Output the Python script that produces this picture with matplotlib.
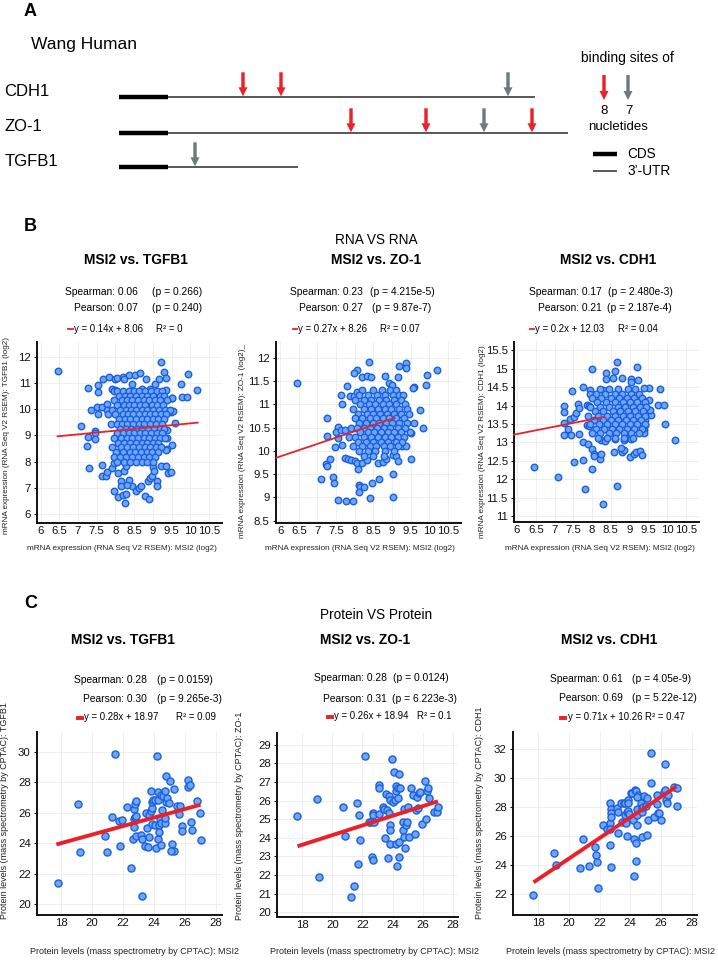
import matplotlib
matplotlib.use('Agg')
import matplotlib.pyplot as plt
from matplotlib.lines import Line2D

plt.rcParams['font.family'] = ['Liberation Sans', 'DejaVu Sans']

W, H = 718, 960
fig = plt.figure(figsize=(W / 100, H / 100), dpi=100)


def box(x0, y0, x1, y1):
    # pixel box (top-left origin) -> figure fraction rect
    return [x0 / W, 1 - y1 / H, (x1 - x0) / W, (y1 - y0) / H]


def ftext(x, y, s, **kw):
    kw.setdefault('va', 'center')
    return fig.text(x / W, 1 - y / H, s, **kw)


# ─── Panel A: binding-site schematic (schematic units along the transcript) ──
GENES = ['CDH1', 'ZO-1', 'TGFB1']
CDS_START = 119
CDS_END = 168
UTR_END = [535, 568, 298]
SITES_8NT = [[243, 281], [351, 426, 532], []]
SITES_7NT = [[508], [484], [195]]

# ─── Panel B: RNA vs RNA (log2 RSEM) ────────────────────────────────────────
B_TITLES = ['MSI2 vs. TGFB1', 'MSI2 vs. ZO-1', 'MSI2 vs. CDH1']
B_GENE_LBL = ['TGFB1 (log2)', 'ZO-1 (log2)_', 'CDH1 (log2)']
B_SPEARMAN = ['0.06', '0.23', '0.17']
B_SPEARMAN_P = ['0.266', '4.215e-5', '2.480e-3']
B_PEARSON = ['0.07', '0.27', '0.21']
B_PEARSON_P = ['0.240', '9.87e-7', '2.187e-4']
B_SLOPE = [0.14, 0.27, 0.2]
B_INTERCEPT = [8.06, 8.26, 12.03]
B_R2 = ['0', '0.07', '0.04']
B_FIT_X = [(6.45, 10.2), (5.9, 9.07), (5.92, 8.32)]

B1_OUT = [(6.45, 11.45), (9.23, 11.81), (9.94, 11.34), (10.18, 10.75), (9.74, 10.96),
          (9.79, 10.48), (9.91, 10.48), (9.29, 11.43), (9.36, 11.2), (7.26, 10.83),
          (7.54, 10.92), (7.52, 10.64), (7.67, 11.17), (7.83, 11.25), (8.0, 11.15),
          (8.03, 11.21), (8.21, 11.22), (8.22, 11.15), (8.36, 11.3), (8.53, 11.3),
          (8.66, 11.4), (8.43, 10.96), (8.82, 11.15), (9.16, 11.15), (9.07, 10.98),
          (8.72, 10.77), (8.93, 10.77), (9.35, 10.75), (9.52, 10.44), (7.92, 10.79),
          (8.0, 10.75), (7.35, 9.97), (7.5, 10.07), (7.63, 10.07), (7.54, 9.81),
          (7.77, 10.2), (7.77, 9.97), (7.79, 9.81), (7.09, 9.37), (7.44, 9.17),
          (7.44, 9.08), (7.26, 8.93), (7.23, 8.6), (7.44, 8.85), (7.28, 7.74),
          (7.64, 7.87), (7.65, 7.46), (7.74, 7.43), (7.76, 7.59), (7.91, 7.74),
          (7.96, 7.93), (8.06, 7.58), (7.95, 6.88), (8.14, 7.24), (8.15, 7.05),
          (8.08, 6.66), (8.21, 6.73), (8.29, 6.76), (8.25, 6.41), (8.37, 7.29),
          (8.43, 7.05), (8.32, 7.11), (8.22, 7.64), (8.29, 7.84), (8.56, 6.89),
          (8.63, 6.98), (8.69, 7.07), (8.79, 6.69), (8.91, 6.55), (8.88, 7.27),
          (8.93, 7.36), (8.99, 7.43), (9.12, 7.24), (9.1, 7.05), (9.0, 7.81),
          (9.02, 7.62), (9.23, 7.84), (9.36, 7.84), (9.4, 7.55), (9.49, 7.59),
          (9.52, 8.63), (9.58, 9.46), (9.39, 9.21), (9.39, 8.91), (9.39, 8.47),
          (9.35, 8.44), (9.49, 9.9), (9.55, 9.93), (9.52, 10.41)]
B1_CORE_Y = [10.7, 10.52, 10.34, 10.16, 9.98, 9.8, 9.62, 9.44, 9.26, 9.08, 8.9, 8.72,
             8.54, 8.36, 8.18, 8.0]
B1_CORE_X = [[7.95, 8.05, 8.2, 8.35, 8.5, 8.62, 8.78, 8.95, 9.1, 9.25],
             [8.1, 8.25, 8.4, 8.55, 8.7, 8.85, 9.0, 9.18, 9.3],
             [7.97, 8.17, 8.3, 8.45, 8.6, 8.75, 8.9, 9.05, 9.2, 9.38],
             [8.05, 8.22, 8.35, 8.5, 8.65, 8.8, 8.97, 9.12, 9.28],
             [7.9, 8.12, 8.28, 8.42, 8.56, 8.7, 8.85, 9.0, 9.16, 9.32, 9.45],
             [8.0, 8.2, 8.33, 8.48, 8.62, 8.78, 8.92, 9.07, 9.22, 9.36],
             [8.1, 8.25, 8.4, 8.55, 8.7, 8.85, 9.0, 9.15, 9.3],
             [7.88, 8.05, 8.18, 8.32, 8.47, 8.62, 8.77, 8.92, 9.08, 9.25],
             [8.12, 8.28, 8.42, 8.57, 8.72, 8.88, 9.02, 9.18, 9.3],
             [8.05, 8.2, 8.35, 8.5, 8.66, 8.8, 8.96, 9.1, 9.25],
             [7.95, 8.15, 8.3, 8.45, 8.6, 8.75, 8.9, 9.05, 9.2, 9.33],
             [8.08, 8.24, 8.4, 8.55, 8.7, 8.85, 9.0, 9.15],
             [7.92, 8.15, 8.32, 8.47, 8.62, 8.78, 8.93, 9.08, 9.22],
             [8.02, 8.2, 8.38, 8.53, 8.68, 8.83, 8.98, 9.13],
             [7.95, 8.12, 8.28, 8.45, 8.6, 8.75, 8.9, 9.05],
             [8.05, 8.22, 8.38, 8.55, 8.7, 8.85, 9.0]]

B2_OUT = [(6.45, 11.45), (8.37, 11.91), (9.38, 11.89), (9.38, 11.79), (9.2, 11.82),
          (10.2, 11.74), (9.95, 11.63), (9.91, 11.42), (9.58, 11.37), (9.55, 11.35),
          (8.05, 11.74), (7.98, 11.67), (8.2, 11.59), (8.33, 11.61), (8.44, 11.59),
          (8.8, 11.61), (9.17, 11.59), (7.79, 11.4), (8.91, 11.45), (9.0, 11.42),
          (7.63, 11.21), (7.66, 11.01), (7.88, 11.17), (7.98, 11.19), (8.07, 11.26),
          (7.26, 10.7), (7.27, 10.32), (7.1, 9.39), (7.24, 9.71), (7.27, 9.68),
          (7.35, 9.82), (7.43, 9.43), (7.44, 9.31), (7.47, 10.08), (7.54, 10.52),
          (7.51, 10.4), (7.63, 10.44), (7.74, 10.44), (7.56, 10.27), (7.65, 10.13),
          (7.54, 8.95), (7.78, 8.92), (7.96, 8.92), (7.74, 9.85), (7.83, 9.83),
          (7.91, 9.81), (8.0, 9.78), (8.07, 9.75), (8.09, 9.62), (8.11, 9.27),
          (8.14, 9.22), (8.25, 9.23), (8.11, 9.11), (8.42, 8.99), (8.46, 9.32),
          (8.64, 9.39), (9.03, 9.51), (9.04, 9.01), (8.2, 9.75), (8.34, 9.8),
          (8.62, 9.73), (8.75, 9.77), (8.84, 9.82), (9.02, 9.92), (9.11, 9.89),
          (9.17, 9.78), (9.51, 9.82), (9.26, 10.1), (9.38, 10.1), (9.51, 10.38),
          (9.58, 10.59), (9.76, 10.87), (9.82, 10.49)]
B2_CORE_Y = [11.3, 11.2, 11.1, 11.0, 10.9, 10.8, 10.7, 10.6, 10.5, 10.4, 10.3, 10.2,
             10.1, 10.0, 9.9]
B2_CORE_X = [[8.2, 8.5, 8.72, 8.95, 9.1],
             [8.12, 8.35, 8.6, 8.8, 9.02, 9.2, 9.3],
             [8.0, 8.25, 8.45, 8.65, 8.85, 9.05, 9.25],
             [8.15, 8.38, 8.55, 8.75, 8.92, 9.12, 9.35],
             [7.95, 8.25, 8.45, 8.62, 8.8, 8.98, 9.18, 9.4],
             [8.1, 8.32, 8.5, 8.68, 8.86, 9.05, 9.25, 9.45],
             [8.0, 8.2, 8.4, 8.58, 8.75, 8.93, 9.12, 9.32],
             [8.12, 8.3, 8.48, 8.66, 8.84, 9.0, 9.2, 9.4],
             [7.9, 8.05, 8.25, 8.42, 8.6, 8.78, 8.95, 9.15, 9.35],
             [8.15, 8.35, 8.52, 8.7, 8.88, 9.05, 9.25, 9.48],
             [7.85, 8.0, 8.25, 8.45, 8.62, 8.8, 8.98, 9.15, 9.32],
             [8.1, 8.3, 8.5, 8.7, 8.9, 9.1, 9.28],
             [7.95, 8.2, 8.4, 8.58, 8.78, 8.95, 9.15],
             [8.12, 8.35, 8.55, 8.8, 9.05],
             [8.25, 8.5, 8.78]]

B3_OUT = [(6.45, 12.34), (7.09, 12.06), (7.82, 11.75), (8.28, 11.34), (8.67, 11.81),
          (7.99, 12.29), (7.53, 12.47), (7.77, 12.52), (8.0, 14.99), (8.66, 15.2),
          (9.2, 15.06), (8.38, 14.88), (8.61, 14.93), (8.38, 14.73), (8.57, 14.75),
          (8.81, 14.76), (9.03, 14.72), (9.05, 14.63), (9.23, 14.7), (7.75, 14.52),
          (7.47, 14.4), (7.95, 14.43), (7.95, 14.31), (8.3, 14.43), (9.53, 14.49),
          (9.38, 14.47), (9.8, 14.45), (9.75, 14.02), (9.91, 14.02), (9.95, 13.49),
          (10.2, 13.06), (7.26, 14.0), (7.26, 13.84), (7.24, 13.54), (7.35, 13.38),
          (7.26, 13.2), (7.44, 13.2), (7.66, 13.22), (7.42, 13.65), (7.53, 13.7),
          (7.57, 13.79), (7.62, 14.04), (7.64, 13.93), (7.77, 13.02), (7.88, 12.97),
          (7.86, 13.47), (7.92, 13.45), (7.86, 14.02), (7.92, 14.0), (8.01, 12.82),
          (8.04, 12.7), (8.06, 12.64), (8.2, 12.55), (8.25, 12.7), (8.23, 13.06),
          (8.34, 13.04), (8.59, 12.73), (8.61, 13.09), (8.81, 12.75), (8.85, 12.79),
          (8.78, 12.84), (9.01, 12.61), (9.12, 12.7), (9.16, 12.75), (9.29, 12.76),
          (9.34, 12.65), (8.85, 13.06), (8.9, 13.11), (9.03, 13.09), (9.38, 13.34),
          (9.38, 13.25), (9.42, 13.61), (9.4, 13.47), (9.56, 13.76), (9.54, 13.88),
          (9.51, 14.15)]
B3_CORE_Y = [14.45, 14.33, 14.21, 14.09, 13.97, 13.85, 13.73, 13.61, 13.49, 13.37,
             13.25, 13.13]
B3_CORE_X = [[8.2, 8.45, 8.7, 8.95, 9.15],
             [8.1, 8.35, 8.6, 8.8, 9.05, 9.25],
             [8.0, 8.25, 8.5, 8.72, 8.92, 9.12, 9.32],
             [8.12, 8.38, 8.6, 8.82, 9.02, 9.2, 9.4],
             [7.95, 8.2, 8.45, 8.68, 8.88, 9.08, 9.28, 9.45],
             [8.08, 8.3, 8.55, 8.75, 8.95, 9.15, 9.35],
             [7.9, 8.15, 8.4, 8.62, 8.82, 9.02, 9.22, 9.42],
             [8.05, 8.28, 8.5, 8.7, 8.9, 9.1, 9.3],
             [7.95, 8.18, 8.4, 8.6, 8.8, 9.0, 9.2, 9.4],
             [8.1, 8.32, 8.52, 8.72, 8.92, 9.12, 9.32],
             [8.0, 8.22, 8.45, 8.65, 8.85, 9.05, 9.25],
             [8.15, 8.4, 8.6, 8.85, 9.1]]

# ─── Panel C: protein vs protein (CPTAC) ────────────────────────────────────
C_TITLES = ['MSI2 vs. TGFB1', 'MSI2 vs. ZO-1', 'MSI2 vs. CDH1']
C_GENE_LBL = ['TGFB1', 'ZO-1', 'CDH1']
C_SPEARMAN = ['0.28', '0.28', '0.61']
C_SPEARMAN_P = ['0.0159', '0.0124', '4.05e-9']
C_PEARSON = ['0.30', '0.31', '0.69']
C_PEARSON_P = ['9.265e-3', '6.223e-3', '5.22e-12']
C_SLOPE = [0.28, 0.26, 0.71]
C_INTERCEPT = [18.97, 18.94, 10.26]
C_R2 = ['0.09', '0.1', '0.47']
C_FIT_X = (17.7, 27.0)

C1_PTS = [(17.78, 21.42), (19.12, 26.59), (19.23, 23.41), (20.82, 24.45), (20.95, 23.45),
          (21.31, 25.7), (21.51, 29.89), (21.72, 25.46), (21.91, 25.52), (21.83, 23.82),
          (22.26, 26.4), (22.52, 22.4), (22.67, 24.3), (22.71, 25.04), (22.74, 25.59),
          (22.77, 25.74), (22.74, 26.24), (22.8, 26.57), (22.82, 26.79), (22.82, 24.5),
          (22.84, 25.81), (23.18, 24.52), (23.2, 24.3), (23.2, 20.55), (23.39, 23.82),
          (23.46, 26.0), (23.53, 24.98), (23.63, 23.78), (23.68, 25.85), (23.7, 24.39),
          (23.78, 26.11), (23.85, 26.29), (23.83, 27.4), (23.85, 26.72), (23.91, 26.81),
          (23.89, 25.26), (24.09, 25.2), (24.13, 23.71), (24.17, 29.74), (24.06, 26.83),
          (24.24, 27.36), (24.26, 26.81), (24.28, 24.28), (24.3, 25.22), (24.34, 24.76),
          (24.39, 25.57), (24.43, 27.14), (24.45, 23.89), (24.45, 25.31), (24.49, 26.18),
          (24.58, 27.1), (24.69, 27.4), (24.71, 25.35), (24.73, 25.66), (24.75, 26.68),
          (24.77, 28.41), (24.86, 27.0), (24.95, 26.62), (25.05, 28.1), (25.16, 23.93),
          (25.31, 23.49), (25.08, 23.49), (25.31, 27.58), (25.51, 26.44), (25.61, 25.92),
          (25.68, 26.44), (25.78, 25.13), (25.78, 24.8), (26.22, 28.12), (26.19, 27.71),
          (26.34, 27.82), (26.41, 25.41), (26.45, 24.85), (26.75, 26.79), (26.99, 25.96),
          (27.01, 24.21)]
C2_PTS = [(17.67, 25.18), (19.02, 26.06), (19.13, 21.87), (20.72, 25.66), (20.87, 24.12),
          (21.25, 20.81), (21.44, 21.41), (21.64, 25.86), (21.73, 22.57), (21.8, 25.21),
          (21.86, 23.9), (22.19, 28.41), (22.42, 24.85), (22.57, 24.85), (22.66, 22.99),
          (22.7, 22.82), (22.68, 25.34), (22.72, 25.21), (22.75, 24.83), (23.12, 26.83),
          (23.12, 26.68), (23.12, 25.25), (23.34, 25.66), (23.45, 25.57), (23.47, 23.99),
          (23.58, 26.34), (23.63, 25.48), (23.76, 25.34), (23.67, 22.93), (23.78, 26.22),
          (23.81, 26.02), (23.81, 24.71), (23.81, 24.4), (23.85, 23.65), (23.98, 28.21),
          (24.02, 25.93), (24.09, 27.51), (24.16, 26.02), (24.2, 26.77), (24.25, 26.52),
          (24.23, 23.69), (24.29, 22.5), (24.34, 26.11), (24.38, 26.65), (24.4, 23.78),
          (24.42, 27.42), (24.45, 22.97), (24.47, 26.65), (24.67, 24.44), (24.69, 24.85),
          (24.73, 25.57), (24.75, 24.04), (24.84, 23.45), (24.89, 24.67), (24.95, 24.85),
          (25.02, 25.66), (25.11, 24.04), (25.24, 26.68), (25.33, 26.29), (25.51, 24.22),
          (25.57, 25.48), (25.66, 25.59), (25.62, 26.2), (25.73, 26.38), (25.79, 26.47),
          (25.97, 24.76), (26.17, 27.06), (26.21, 25.03), (26.28, 26.52), (26.34, 26.65),
          (26.43, 26.16), (26.72, 25.39), (26.94, 25.39), (26.98, 25.66)]
C3_PTS = [(17.67, 21.95), (19.03, 24.83), (19.16, 24.02), (20.74, 23.79), (20.91, 25.82),
          (21.28, 23.95), (21.68, 25.29), (21.74, 24.71), (21.83, 24.25), (21.9, 22.41),
          (22.22, 26.78), (22.49, 26.48), (22.66, 26.9), (22.7, 28.32), (22.77, 27.86),
          (22.77, 27.59), (22.75, 27.31), (22.66, 25.4), (22.75, 23.91), (22.66, 26.48),
          (23.14, 27.93), (23.19, 27.7), (23.19, 26.25), (23.4, 28.28), (23.58, 28.32),
          (23.69, 28.32), (23.47, 27.01), (23.69, 27.01), (23.75, 26.9), (23.69, 27.47),
          (23.8, 27.7), (23.84, 27.77), (23.84, 28.51), (23.84, 28.32), (23.9, 27.54),
          (23.8, 26.05), (24.02, 29.01), (24.13, 28.97), (24.19, 27.13), (24.24, 25.79),
          (24.35, 25.52), (24.3, 29.2), (24.35, 29.13), (24.41, 27.86), (24.46, 27.47),
          (24.46, 26.78), (24.37, 24.32), (24.24, 23.29), (24.5, 28.85), (24.67, 28.74),
          (24.72, 28.28), (24.78, 27.93), (24.74, 25.93), (24.74, 27.7), (24.85, 28.05),
          (24.89, 28.78), (25.07, 28.62), (25.07, 26.09), (25.0, 28.12), (25.33, 31.77),
          (25.33, 29.66), (25.18, 27.13), (25.55, 27.36), (25.72, 28.85), (25.77, 28.23),
          (25.83, 27.59), (25.88, 27.63), (26.03, 27.13), (26.21, 29.08), (26.25, 29.2),
          (26.25, 30.97), (26.32, 28.51), (26.42, 28.28), (26.47, 28.85), (26.82, 29.43),
          (27.04, 29.36), (27.04, 28.12), (24.46, 28.74)]

RED = '#ec2027'
GRAY = '#6d7b7b'
DOT_FACE = '#6ea6f5'
DOT_EDGE = '#1a5fe0'
FS_STAT = 7.4
FS_EQ = 6.9

# ═══ Panel A ═════════════════════════════════════════════════════════════════
axA = fig.add_axes(box(0, 0, W, 200))
axA.set_xlim(0, W)
axA.set_ylim(200, 0)
axA.axis('off')

ROW_Y = [97.3, 133.3, 167.3]
LBL_Y = [91.7, 126.7, 161.7]
ARROW_LEN = 24
ARW = dict(width=3.4, head_width=9, head_length=9, length_includes_head=True, lw=0)

for g, name in enumerate(GENES):
    axA.plot([CDS_START, UTR_END[g]], [ROW_Y[g], ROW_Y[g]], color='#2b2b2b', lw=1.1,
             solid_capstyle='butt')
    axA.plot([CDS_START, CDS_END], [ROW_Y[g], ROW_Y[g]], color='black', lw=3.2,
             solid_capstyle='butt')
    axA.text(4.6, LBL_Y[g], name, fontsize=12, ha='left', va='center')
    for sites, col in ((SITES_8NT[g], RED), (SITES_7NT[g], GRAY)):
        for s in sites:
            axA.arrow(s, ROW_Y[g] - ARROW_LEN - 1, 0, ARROW_LEN, color=col, **ARW)

# legend
for s, col, lbl in ((604, RED, '8'), (628, GRAY, '7')):
    axA.arrow(s, 75, 0, 25, color=col, **ARW)
    axA.text(s + 0.5, 111, lbl, fontsize=9.5, ha='center', va='center')
axA.text(618, 126.5, 'nucletides', fontsize=9.5, ha='center', va='center')
axA.text(627, 58, 'binding sites of', fontsize=10, ha='center', va='center')
axA.plot([592.6, 616.7], [154, 154], color='black', lw=3.2, solid_capstyle='butt')
axA.plot([592.6, 616.7], [170.7, 170.7], color='#2b2b2b', lw=1.1, solid_capstyle='butt')
axA.text(627, 154, 'CDS', fontsize=9.8, ha='left', va='center')
axA.text(627, 170.7, '3\u2019-UTR', fontsize=9.8, ha='left', va='center')

ftext(24, 12, 'A', fontsize=13, fontweight='bold', ha='left')
ftext(31.5, 45, 'Wang Human', fontsize=12.5, ha='left')

# ═══ Panel B ═════════════════════════════════════════════════════════════════
ftext(24, 226.7, 'B', fontsize=13, fontweight='bold', ha='left')
ftext(376, 239.5, 'RNA VS RNA', fontsize=9.8, ha='center')


def style_axes(ax):
    for sp in ('top', 'right'):
        ax.spines[sp].set_visible(False)
    for sp in ('left', 'bottom'):
        ax.spines[sp].set_linewidth(1.4)
        ax.spines[sp].set_color('#111111')
    ax.tick_params(labelsize=8.2, length=2.5, width=0.8, pad=2, colors='#111111')
    ax.grid(True, color='#ececec', lw=0.6)
    ax.set_axisbelow(True)


def stats_block(yrows, xcol, xp, xdash, xeq, xr2, sp, spp, pe, pep, eq, r2, heavy):
    ftext(xcol, yrows[0], f'Spearman: {sp}', fontsize=FS_STAT, ha='right')
    ftext(xp[0], yrows[0], f'(p = {spp})', fontsize=FS_STAT, ha='left')
    ftext(xcol, yrows[1], f'Pearson: {pe}', fontsize=FS_STAT, ha='right')
    ftext(xp[1], yrows[1], f'(p = {pep})', fontsize=FS_STAT, ha='left')
    ftext(xeq, yrows[2], eq, fontsize=FS_EQ, ha='left')
    ftext(xr2, yrows[2], f'R\u00b2 = {r2}', fontsize=FS_EQ, ha='left')
    fig.add_artist(Line2D([xdash[0] / W, xdash[1] / W],
                          [1 - (yrows[2] + 0.5) / H] * 2, color=RED,
                          lw=2.8 if heavy else 1.3))


B_BOX = [(37, 342, 222, 523), (276, 342, 461, 523), (514, 342, 699, 522)]
B_XLIM = [(5.9, 10.85), (5.89, 10.85), (5.92, 10.85)]
B_YLIM = [(5.65, 12.57), (8.45, 12.34), (10.84, 15.73)]
B_YTICKS = [[6, 7, 8, 9, 10, 11, 12],
            [8.5, 9, 9.5, 10, 10.5, 11, 11.5, 12],
            [11, 11.5, 12, 12.5, 13, 13.5, 14, 14.5, 15, 15.5]]
B_XTICKS = [6, 6.5, 7, 7.5, 8, 8.5, 9, 9.5, 10, 10.5]
B_TITLE_X = [136, 376, 608]
B_COL_X = [138, 363, 601.5]
B_P_X = [(151.7, 151.7), (370, 371.7), (607.5, 607)]
B_DASH_X = [(68.3, 72.7), (293, 297), (530, 534)]
B_EQ_X = [74, 298, 535]
B_R2_X = [156, 380, 618]
B_YLBL_X = [7, 243, 482]
B_YLBL_Y = [435, 441, 442]
B_XLBL_X = [122, 360, 600]
B_POINTS = [(B1_OUT, B1_CORE_Y, B1_CORE_X), (B2_OUT, B2_CORE_Y, B2_CORE_X),
            (B3_OUT, B3_CORE_Y, B3_CORE_X)]

for i in range(3):
    ax = fig.add_axes(box(*B_BOX[i]))
    style_axes(ax)
    out, cy, cx = B_POINTS[i]
    xs = [p[0] for p in out]
    ys = [p[1] for p in out]
    for yv, row in zip(cy, cx):
        xs += row
        ys += [yv] * len(row)
    ax.scatter(xs, ys, s=22, facecolor=DOT_FACE, edgecolor=DOT_EDGE, lw=1.0, zorder=3)
    fx = B_FIT_X[i]
    ax.plot(fx, [B_SLOPE[i] * v + B_INTERCEPT[i] for v in fx], color=RED, lw=1.3,
            zorder=4, clip_on=False)
    ax.set_xlim(*B_XLIM[i])
    ax.set_ylim(*B_YLIM[i])
    ax.set_xticks(B_XTICKS)
    ax.set_xticklabels([f'{v:g}' for v in B_XTICKS])
    ax.set_yticks(B_YTICKS[i])
    ax.set_yticklabels([f'{v:g}' for v in B_YTICKS[i]])
    ax.tick_params(axis='x', length=0)

    ftext(B_TITLE_X[i], 259.5, B_TITLES[i], fontsize=9.9, fontweight='bold', ha='center')
    stats_block((291.7, 308.2, 328.5), B_COL_X[i], B_P_X[i], B_DASH_X[i], B_EQ_X[i],
                B_R2_X[i], B_SPEARMAN[i], B_SPEARMAN_P[i], B_PEARSON[i],
                B_PEARSON_P[i], f'y = {B_SLOPE[i]:g}x + {B_INTERCEPT[i]:g}', B_R2[i],
                heavy=False)
    ftext(B_YLBL_X[i], B_YLBL_Y[i], f'mRNA expression (RNA Seq V2 RSEM): {B_GENE_LBL[i]}',
          fontsize=5.9, rotation=90, ha='center', color='#222222')
    ftext(B_XLBL_X[i], 549, 'mRNA expression (RNA Seq V2 RSEM): MSI2 (log2)',
          fontsize=5.9, ha='center', color='#222222')

# ═══ Panel C ═════════════════════════════════════════════════════════════════
ftext(24, 603, 'C', fontsize=13, fontweight='bold', ha='left')
ftext(376, 615, 'Protein VS Protein', fontsize=9.8, ha='center')

C_BOX = [(37, 732, 222, 915), (277, 733, 458, 917), (513, 732, 697, 915)]
C_XLIM = [(16.45, 28.39), (16.34, 28.33), (16.36, 28.35)]
C_YLIM = [(19.3, 31.3), (19.74, 29.63), (20.57, 33.2)]
C_YTICKS = [[20, 22, 24, 26, 28, 30],
            [20, 21, 22, 23, 24, 25, 26, 27, 28, 29],
            [22, 24, 26, 28, 30, 32]]
C_XTICKS = [18, 20, 22, 24, 26, 28]
C_TITLE_X = [123, 365.5, 609]
C_STAT_Y = [(680, 698.5, 717), (678, 699.5, 716), (679, 698, 717)]
C_COL_X = [147, 386.5, 623]
C_P_X = [(156.7, 156.7), (393, 391.7), (631.7, 631.7)]
C_DASH_X = [(77.7, 82.3), (328, 332), (561, 565)]
C_EQ_X = [84.3, 334, 567.7]
C_R2_X = [176, 416.7, 645]
C_YLBL_X = [5, 240, 480]
C_YLBL_Y = [811, 816, 813]
C_XLBL_X = [135, 375, 611]
C_POINTS = [C1_PTS, C2_PTS, C3_PTS]

for i in range(3):
    ax = fig.add_axes(box(*C_BOX[i]))
    style_axes(ax)
    pts = C_POINTS[i]
    ax.scatter([p[0] for p in pts], [p[1] for p in pts], s=26, facecolor=DOT_FACE,
               edgecolor=DOT_EDGE, lw=1.0, zorder=3)
    ax.plot(C_FIT_X, [C_SLOPE[i] * v + C_INTERCEPT[i] for v in C_FIT_X], color=RED,
            lw=2.8, zorder=4, solid_capstyle='butt')
    ax.set_xlim(*C_XLIM[i])
    ax.set_ylim(*C_YLIM[i])
    ax.set_xticks(C_XTICKS)
    ax.set_yticks(C_YTICKS[i])
    ax.tick_params(axis='x', length=0)

    ftext(C_TITLE_X[i], 640, C_TITLES[i], fontsize=9.9, fontweight='bold', ha='center')
    stats_block(C_STAT_Y[i], C_COL_X[i], C_P_X[i], C_DASH_X[i], C_EQ_X[i], C_R2_X[i],
                C_SPEARMAN[i], C_SPEARMAN_P[i], C_PEARSON[i], C_PEARSON_P[i],
                f'y = {C_SLOPE[i]:g}x + {C_INTERCEPT[i]:g}', C_R2[i], heavy=True)
    ftext(C_YLBL_X[i], C_YLBL_Y[i],
          f'Protein levels (mass spectrometry by CPTAC): {C_GENE_LBL[i]}',
          fontsize=6.5, rotation=90, ha='center', color='#222222')
    ftext(C_XLBL_X[i], 952, 'Protein levels (mass spectrometry by CPTAC): MSI2',
          fontsize=6.5, ha='center', color='#222222')

fig.savefig('out.png', dpi=100)
